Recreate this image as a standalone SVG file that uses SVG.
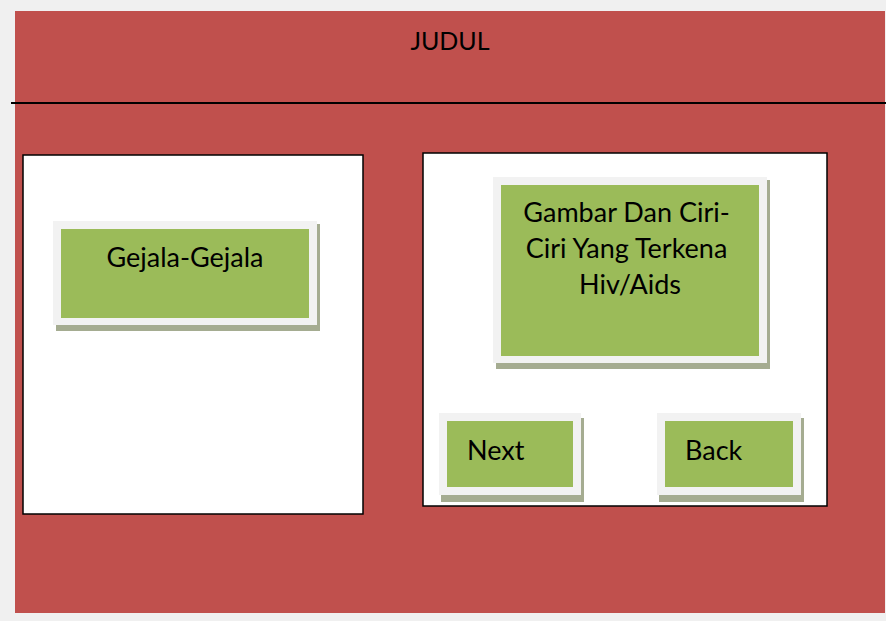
<svg xmlns="http://www.w3.org/2000/svg" width="886" height="621" viewBox="0 0 886 621">
  <style>
    .label { font-family: Lato, "Open Sans", "Liberation Sans", sans-serif; fill: #000; font-size: 27px; }
    .panel { fill: #ffffff; stroke: #000; stroke-width: 1.5; }
    .frame { fill: #f2f2f2; }
    .shadow { fill: #a5ac91; }
    .btn { fill: #9bbb59; }
  </style>
  <!-- page background and red canvas -->
  <rect x="0" y="0" width="886" height="621" fill="#f0f0f0"/>
  <rect x="15" y="11" width="870" height="602" fill="#c0504d"/>

  <g id="header">
    <text class="label" x="450" y="50" style="font-size:25px" text-anchor="middle">JUDUL</text>
    <line x1="11" y1="103" x2="886" y2="103" stroke="#000" stroke-width="2.2"/>
  </g>

  <g id="left-panel">
    <rect class="panel" x="23" y="155" width="340" height="359"/>
  </g>

  <g id="right-panel">
    <rect class="panel" x="423" y="153" width="404" height="353"/>
  </g>

  <g id="gejala">
    <rect class="shadow" x="56" y="224" width="264" height="107"/>
    <rect class="frame" x="53" y="221" width="264" height="104"/>
    <rect class="btn" x="61" y="229" width="248" height="89"/>
    <text class="label" x="185" y="267" text-anchor="middle">Gejala-Gejala</text>
  </g>

  <g id="gambar">
    <rect class="shadow" x="496" y="180" width="274" height="189"/>
    <rect class="frame" x="493" y="177" width="274" height="186"/>
    <rect class="btn" x="501" y="185" width="258" height="171"/>
    <text class="label" text-anchor="middle">
      <tspan x="630" y="222">Gambar Dan Ciri-</tspan>
      <tspan x="630" y="258">Ciri Yang Terkena</tspan>
      <tspan x="630" y="294">Hiv/Aids</tspan>
    </text>
  </g>

  <g id="next">
    <rect class="shadow" x="441" y="418" width="143" height="84"/>
    <rect class="frame" x="439" y="413" width="142" height="82"/>
    <rect class="btn" x="447" y="421" width="126" height="66"/>
    <text class="label" x="467" y="460">Next</text>
  </g>

  <g id="back">
    <rect class="shadow" x="659" y="418" width="145" height="84"/>
    <rect class="frame" x="657" y="413" width="144" height="82"/>
    <rect class="btn" x="665" y="421" width="128" height="66"/>
    <text class="label" x="685" y="460">Back</text>
  </g>

  <g id="connectors"/>
</svg>
